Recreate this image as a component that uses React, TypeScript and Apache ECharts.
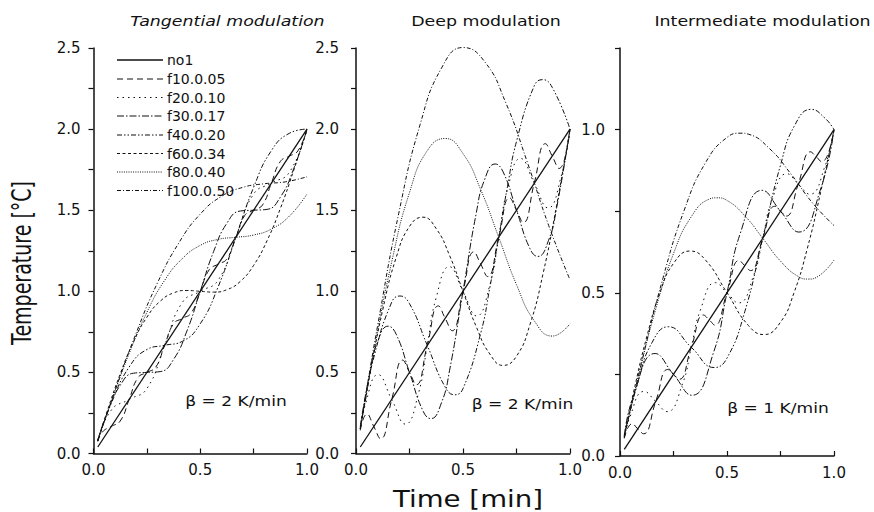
import React, { useEffect, useRef } from 'react';
import * as echarts from 'echarts';

// ---------- labels ----------
const seriesNames = ['no1', 'f10.0.05', 'f20.0.10', 'f30.0.17', 'f40.0.20', 'f60.0.34', 'f80.0.40', 'f100.0.50'];
const panelTitles = ['Tangential modulation', 'Deep modulation', 'Intermediate modulation'];
const rateLabels = ['β = 2 K/min', 'β = 2 K/min', 'β = 1 K/min'];
const yMaxes = [2.5, 2.5, 1.25];
const xAxisName = 'Time [min]';
const yAxisName = 'Temperature [°C]';

// ---------- panel 1 : tangential modulation (time [min], temperature [°C]) ----------
const tangNo1 = [[0.02, 0.04], [1, 2]];
const tangF10 = [[0.02, 0.074], [0.042, 0.133], [0.083, 0.167], [0.125, 0.2], [0.167, 0.333], [0.208, 0.467], [0.25, 0.5], [0.292, 0.533], [0.333, 0.667], [0.375, 0.8], [0.417, 0.833], [0.458, 0.867], [0.5, 1.0], [0.542, 1.133], [0.583, 1.167], [0.625, 1.2], [0.667, 1.333], [0.708, 1.467], [0.75, 1.5], [0.792, 1.533], [0.833, 1.667], [0.875, 1.8], [0.917, 1.833], [0.958, 1.867], [1, 2]];
const tangF20 = [[0.02, 0.077], [0.083, 0.267], [0.167, 0.333], [0.25, 0.4], [0.333, 0.667], [0.417, 0.933], [0.5, 1.0], [0.583, 1.067], [0.667, 1.333], [0.75, 1.6], [0.833, 1.667], [0.917, 1.733], [1, 2]];
const tangF30 = [[0.02, 0.082], [0.0625, 0.245], [0.125, 0.42], [0.1875, 0.495], [0.25, 0.5], [0.3125, 0.505], [0.375, 0.58], [0.4375, 0.755], [0.5, 1.0], [0.5625, 1.245], [0.625, 1.42], [0.6875, 1.495], [0.75, 1.5], [0.8125, 1.505], [0.875, 1.58], [0.9375, 1.755], [1, 2]];
const tangF40 = [[0.02, 0.077], [0.083, 0.308], [0.167, 0.533], [0.25, 0.641], [0.333, 0.667], [0.417, 0.692], [0.5, 0.8], [0.583, 1.025], [0.667, 1.333], [0.75, 1.641], [0.833, 1.867], [0.917, 1.974], [1, 2]];
const tangF60 = [[0.02, 0.083], [0.0625, 0.255], [0.125, 0.49], [0.1875, 0.689], [0.25, 0.84], [0.3125, 0.939], [0.375, 0.99], [0.4375, 1.005], [0.5, 1.0], [0.5625, 0.995], [0.625, 1.01], [0.6875, 1.061], [0.75, 1.16], [0.8125, 1.311], [0.875, 1.51], [0.9375, 1.745], [1, 2]];
const tangF80 = [[0.02, 0.078], [0.083, 0.32], [0.167, 0.616], [0.25, 0.87], [0.333, 1.067], [0.417, 1.203], [0.5, 1.283], [0.583, 1.32], [0.667, 1.333], [0.75, 1.347], [0.833, 1.384], [0.917, 1.463], [1, 1.6]];
const tangF100 = [[0.02, 0.078], [0.1, 0.384], [0.2, 0.743], [0.3, 1.053], [0.4, 1.299], [0.5, 1.476], [0.6, 1.586], [0.7, 1.641], [0.8, 1.663], [0.9, 1.675], [1, 1.706]];

// ---------- panel 2 : deep modulation ----------
const deepNo1 = [[0.02, 0.04], [1, 2]];
const deepF10 = [[0.02, 0.143], [0.051, 0.243], [0.083, 0.167], [0.115, 0.091], [0.167, 0.333], [0.218, 0.576], [0.25, 0.5], [0.282, 0.424], [0.333, 0.667], [0.385, 0.91], [0.417, 0.833], [0.449, 0.757], [0.5, 1.0], [0.551, 1.243], [0.583, 1.167], [0.615, 1.091], [0.667, 1.333], [0.718, 1.576], [0.75, 1.5], [0.782, 1.424], [0.833, 1.667], [0.885, 1.91], [0.917, 1.833], [0.949, 1.757], [1, 2]];
const deepF20 = [[0.02, 0.15], [0.042, 0.295], [0.103, 0.486], [0.167, 0.333], [0.231, 0.181], [0.292, 0.371], [0.333, 0.667], [0.375, 0.962], [0.436, 1.152], [0.5, 1.0], [0.564, 0.848], [0.625, 1.038], [0.667, 1.333], [0.708, 1.629], [0.769, 1.819], [0.833, 1.667], [0.898, 1.514], [0.958, 1.705], [1, 2]];
const deepF30 = [[0.02, 0.167], [0.0625, 0.486], [0.1, 0.685], [0.15, 0.785], [0.1875, 0.736], [0.25, 0.5], [0.3125, 0.264], [0.35, 0.215], [0.4, 0.315], [0.4375, 0.514], [0.5, 1.0], [0.5625, 1.486], [0.6, 1.685], [0.65, 1.785], [0.6875, 1.736], [0.75, 1.5], [0.8125, 1.264], [0.85, 1.215], [0.9, 1.315], [0.9375, 1.514], [1, 2]];
const deepF40 = [[0.02, 0.152], [0.042, 0.313], [0.083, 0.591], [0.167, 0.933], [0.205, 0.971], [0.25, 0.924], [0.333, 0.667], [0.417, 0.409], [0.462, 0.362], [0.5, 0.4], [0.583, 0.743], [0.625, 1.02], [0.667, 1.333], [0.708, 1.647], [0.75, 1.924], [0.833, 2.267], [0.872, 2.305], [0.917, 2.257], [1, 2]];
const deepF60 = [[0.02, 0.153], [0.0625, 0.47], [0.125, 0.886], [0.1875, 1.207], [0.25, 1.4], [0.3125, 1.457], [0.375, 1.386], [0.4375, 1.22], [0.5, 1.0], [0.5625, 0.78], [0.625, 0.614], [0.6875, 0.543], [0.75, 0.6], [0.8125, 0.793], [0.875, 1.114], [0.9375, 1.53], [1, 2]];
const deepF80 = [[0.02, 0.153], [0.083, 0.626], [0.167, 1.182], [0.25, 1.609], [0.333, 1.867], [0.417, 1.942], [0.5, 1.849], [0.583, 1.626], [0.667, 1.333], [0.75, 1.041], [0.833, 0.818], [0.917, 0.724], [1, 0.8]];
const deepF100 = [[0.02, 0.159], [0.05, 0.396], [0.1, 0.781], [0.2, 1.482], [0.3, 2.03], [0.4, 2.377], [0.5, 2.503], [0.6, 2.418], [0.7, 2.162], [0.8, 1.798], [0.9, 1.407], [1, 1.071]];

// ---------- panel 3 : intermediate modulation ----------
const interNo1 = [[0.02, 0.02], [1, 1]];
const interF10 = [[0.02, 0.054], [0.057, 0.099], [0.083, 0.083], [0.11, 0.068], [0.167, 0.167], [0.223, 0.265], [0.25, 0.25], [0.277, 0.235], [0.333, 0.333], [0.39, 0.432], [0.417, 0.417], [0.443, 0.401], [0.5, 0.5], [0.557, 0.599], [0.583, 0.583], [0.61, 0.568], [0.667, 0.667], [0.723, 0.765], [0.75, 0.75], [0.777, 0.735], [0.833, 0.833], [0.89, 0.932], [0.917, 0.917], [0.943, 0.901], [1, 1]];
const interF20 = [[0.02, 0.057], [0.042, 0.112], [0.113, 0.198], [0.167, 0.167], [0.22, 0.136], [0.292, 0.221], [0.333, 0.333], [0.375, 0.446], [0.446, 0.531], [0.5, 0.5], [0.554, 0.469], [0.625, 0.554], [0.667, 0.667], [0.708, 0.779], [0.78, 0.865], [0.833, 0.833], [0.887, 0.802], [0.958, 0.888], [1, 1]];
const interF30 = [[0.02, 0.062], [0.0625, 0.183], [0.164, 0.314], [0.25, 0.25], [0.336, 0.186], [0.4375, 0.318], [0.5, 0.5], [0.5625, 0.683], [0.664, 0.814], [0.75, 0.75], [0.836, 0.686], [0.9375, 0.818], [1, 1]];
const interF40 = [[0.02, 0.057], [0.083, 0.225], [0.15, 0.348], [0.226, 0.396], [0.333, 0.333], [0.441, 0.271], [0.5, 0.3], [0.583, 0.442], [0.667, 0.667], [0.75, 0.891], [0.817, 1.014], [0.893, 1.062], [0.958, 1.035], [1, 1]];
const interF60 = [[0.02, 0.063], [0.0625, 0.193], [0.125, 0.365], [0.1875, 0.502], [0.25, 0.59], [0.3275, 0.628], [0.4, 0.6], [0.5, 0.5], [0.6, 0.4], [0.6725, 0.372], [0.75, 0.41], [0.8125, 0.499], [0.875, 0.635], [0.9375, 0.808], [1, 1]];
const interF80 = [[0.02, 0.058], [0.083, 0.236], [0.167, 0.45], [0.25, 0.62], [0.333, 0.733], [0.417, 0.787], [0.452, 0.791], [0.5, 0.783], [0.583, 0.736], [0.667, 0.667], [0.75, 0.597], [0.833, 0.55], [0.881, 0.542], [0.917, 0.547], [1, 0.6]];
const interF100 = [[0.02, 0.058], [0.1, 0.284], [0.2, 0.543], [0.3, 0.753], [0.4, 0.899], [0.5, 0.976], [0.565, 0.989], [0.6, 0.986], [0.7, 0.941], [0.8, 0.863], [0.9, 0.775], [1, 0.706]];

const panelData = [
  [tangNo1, tangF10, tangF20, tangF30, tangF40, tangF60, tangF80, tangF100],
  [deepNo1, deepF10, deepF20, deepF30, deepF40, deepF60, deepF80, deepF100],
  [interNo1, interF10, interF20, interF30, interF40, interF60, interF80, interF100],
];

// line dash patterns, one per legend entry
const dashPatterns: (number[] | null)[] = [
  null,
  [6, 4],
  [1.5, 4],
  [7, 2, 1.5, 2],
  [5, 2, 1.5, 2, 1.5, 2],
  [3, 2.5],
  [1, 1.3],
  [4, 2, 1, 2],
];

const INK = '#111';
const FONT = 'DejaVu Sans';

const grids = [
  { left: 93.5, top: 48, width: 213.5, height: 405.5 },
  { left: 356, top: 48, width: 214, height: 405.5 },
  { left: 620, top: 48, width: 214, height: 408 },
];
const yLabelMargins = [13, 17, 15];

const halfFmt = (v: number) => (Math.abs(v * 2 - Math.round(v * 2)) < 1e-6 ? v.toFixed(1) : '');

export default function App() {
  const ref = useRef<HTMLDivElement>(null);
  useEffect(() => {
    document.body.style.margin = '0';
    const chart = echarts.init(ref.current as HTMLDivElement, null, { renderer: 'svg' });

    const xAxis = grids.map((_, i) => ({
      type: 'value', gridIndex: i, min: 0, max: 1, interval: 0.25,
      axisLine: { show: true, onZero: false, lineStyle: { color: INK, width: 1.5 } },
      axisTick: { show: true, inside: true, length: 5, lineStyle: { color: INK, width: 1.2 } },
      axisLabel: { formatter: halfFmt, margin: 9, color: INK, fontSize: 15, fontFamily: FONT },
      splitLine: { show: false },
    }));
    const yAxis = grids.map((_, i) => ({
      type: 'value', gridIndex: i, min: 0, max: yMaxes[i], interval: 0.25,
      axisLine: { show: true, onZero: false, lineStyle: { color: INK, width: 1.5 } },
      axisTick: { show: true, inside: false, length: 5, lineStyle: { color: INK, width: 1.2 } },
      axisLabel: { formatter: halfFmt, margin: yLabelMargins[i], color: INK, fontSize: 15, fontFamily: FONT },
      splitLine: { show: false },
    }));

    const series: any[] = [];
    panelData.forEach((curves, p) => {
      curves.forEach((pts, k) => {
        series.push({
          type: 'line', name: seriesNames[k], xAxisIndex: p, yAxisIndex: p,
          data: pts, smooth: k === 0 ? false : true, symbol: 'none', clip: false,
          lineStyle: { color: INK, width: k === 0 ? 1.3 : 1, type: dashPatterns[k] || 'solid' },
          silent: true,
        });
      });
    });

    const graphic: any[] = [];
    const titleX = [227.5, 486, 762.5];
    panelTitles.forEach((t, i) => {
      graphic.push({
        type: 'text', x: titleX[i], y: 21, scaleX: 1.2,
        style: {
          text: t, fontSize: 14.5, fontFamily: FONT, fontStyle: i === 0 ? 'italic' : 'normal',
          fill: INK, textAlign: 'center', align: 'center', textVerticalAlign: 'middle', verticalAlign: 'middle',
        },
      });
    });
    const rateX = [236, 522.5, 778];
    const rateY = [402, 405, 409];
    rateLabels.forEach((t, i) => {
      graphic.push({
        type: 'text', x: rateX[i], y: rateY[i], scaleX: 1.22,
        style: {
          text: t, fontSize: 14, fontFamily: FONT, fill: INK,
          textAlign: 'center', align: 'center', textVerticalAlign: 'middle', verticalAlign: 'middle',
        },
      });
    });
    // legend (drawn by hand so that dash patterns show without symbols)
    const legendY = [60, 79, 97.5, 116, 135, 153.5, 172, 190.5];
    seriesNames.forEach((n, k) => {
      graphic.push({
        type: 'line', shape: { x1: 117, y1: legendY[k], x2: 163, y2: legendY[k] },
        style: { stroke: INK, lineWidth: k === 0 ? 1.3 : 1, lineDash: dashPatterns[k] || null },
      });
      graphic.push({
        type: 'text', x: 167, y: legendY[k],
        style: {
          text: n, fontSize: 14, fontFamily: FONT, fill: INK,
          textAlign: 'left', align: 'left', textVerticalAlign: 'middle', verticalAlign: 'middle',
        },
      });
    });
    // axis names
    graphic.push({
      type: 'text', x: 22, y: 263, rotation: Math.PI / 2, scaleY: 1.4,
      style: {
        text: yAxisName, fontSize: 19, fontFamily: FONT, fill: INK,
        textAlign: 'center', align: 'center', textVerticalAlign: 'middle', verticalAlign: 'middle',
      },
    });
    graphic.push({
      type: 'text', x: 468, y: 499, scaleX: 1.2,
      style: {
        text: xAxisName, fontSize: 23, fontFamily: FONT, fill: INK,
        textAlign: 'center', align: 'center', textVerticalAlign: 'middle', verticalAlign: 'middle',
      },
    });

    chart.setOption({
      animation: false,
      backgroundColor: '#fff',
      grid: grids.map((g) => ({ ...g, containLabel: false })),
      xAxis,
      yAxis,
      series,
      graphic,
    });
    return () => chart.dispose();
  }, []);
  return <div ref={ref} style={{ width: 874, height: 512 }} />;
}
